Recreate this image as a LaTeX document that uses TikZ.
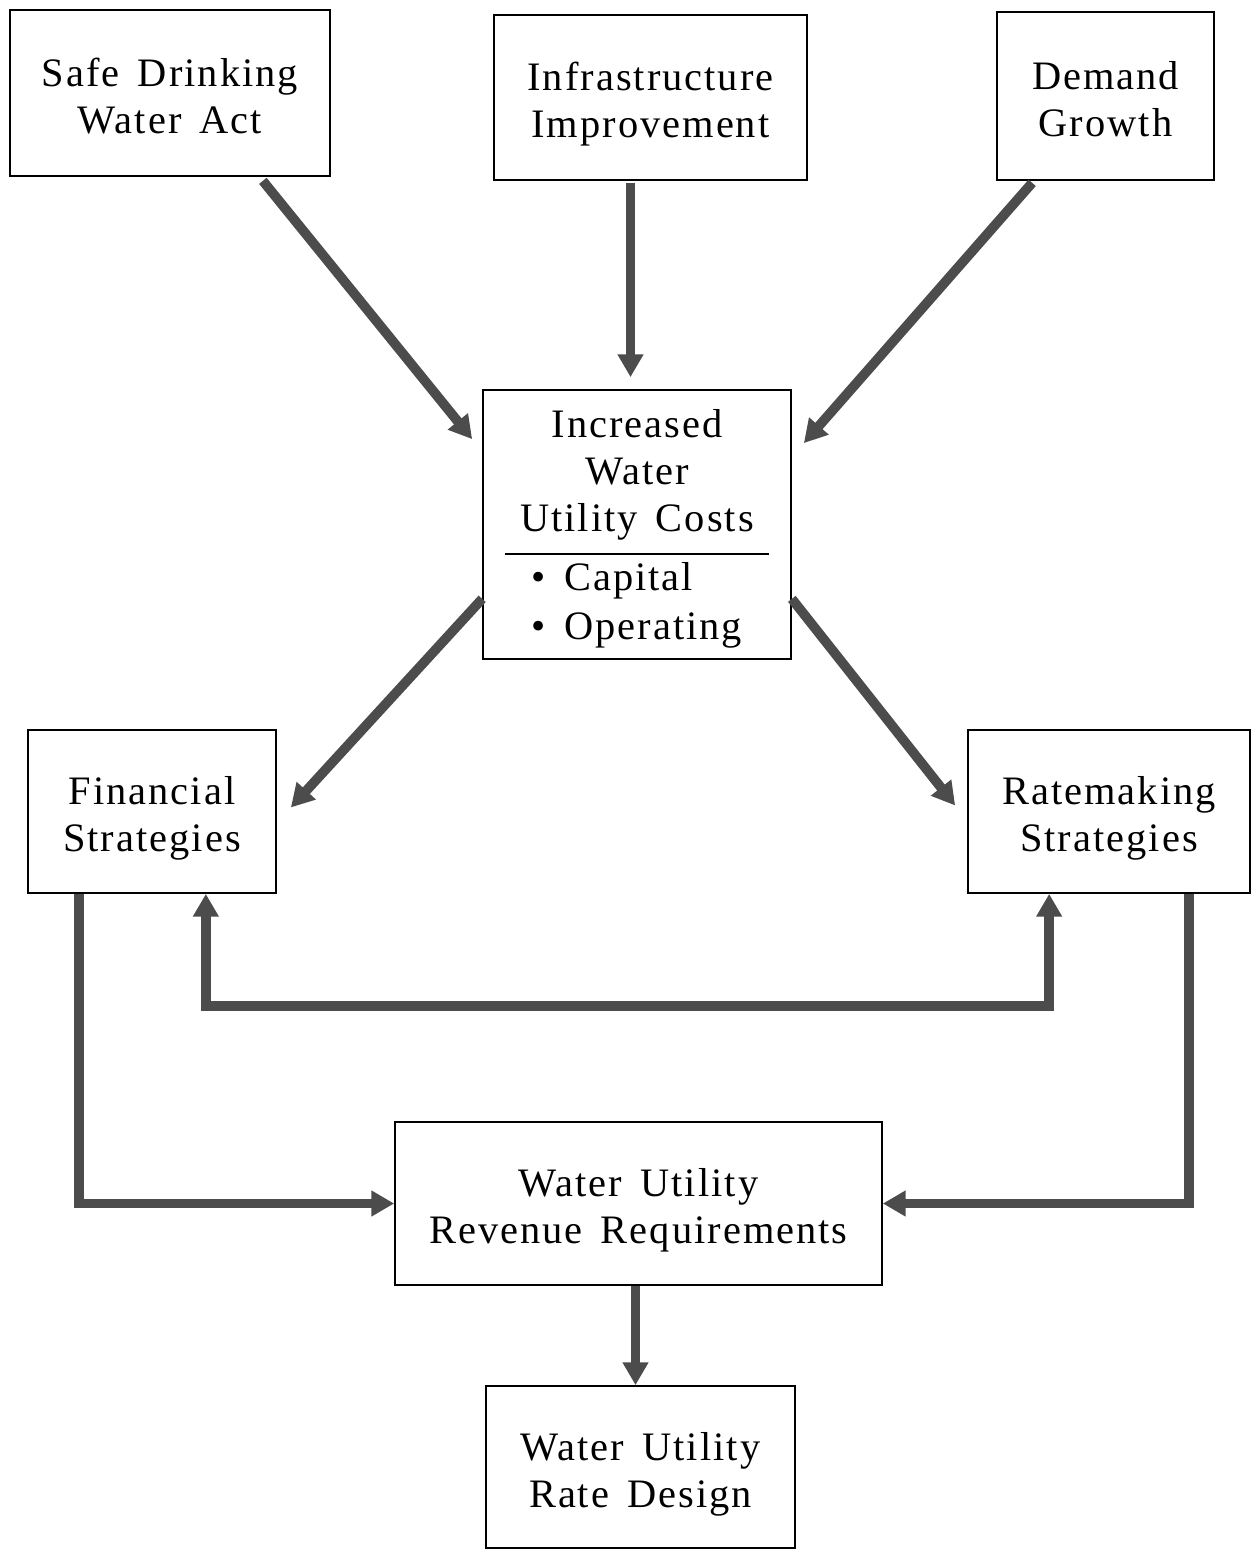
\documentclass[tikz,border=0pt]{standalone}
\usepackage{fontspec}
\setmainfont{Liberation Serif}[LetterSpace=5,WordSpace=1.5]
\usetikzlibrary{calc,arrows.meta}
\newcommand{\boxpad}{\rule{0pt}{27pt}}

\begin{document}
\begin{tikzpicture}[x=0.02cm,y=-0.02cm,
    box/.style={draw, line width=1pt, align=center, inner sep=0pt,
      font=\fontsize{23}{26.5}\selectfont},
    flow/.style={draw=black!70, line width=5.5pt,
      -{Triangle[width=14pt,length=13pt]}},
    flowboth/.style={flow, {Triangle[width=14pt,length=13pt]}-{Triangle[width=14pt,length=13pt]}}]
  \useasboundingbox (0,0) rectangle (1256,1550);

  % driving forces
  \node[box, minimum width=6.4cm, minimum height=3.32cm] (sdwa) at (170,93)
    {\boxpad Safe Drinking\\Water Act\strut};
  \node[box, minimum width=6.26cm, minimum height=3.3cm] (infra) at (650.5,97.5)
    {\boxpad Infrastructure\\Improvement\strut};
  \node[box, minimum width=4.34cm, minimum height=3.36cm] (demand) at (1105.5,96)
    {\boxpad Demand\\Growth\strut};

  % costs
  \node[box, minimum width=6.16cm, minimum height=5.38cm] (costs) at (637,524.5)
    {\rule{0pt}{24pt}Increased\\Water\\Utility Costs\\[-13pt]
     \rule{5.3cm}{0.8pt}\\[0.5pt]
     \begin{tabular}{@{}l@{}}\textbullet{} Capital\\[1.5pt]\textbullet{} Operating\end{tabular}};

  % strategies
  \node[box, minimum width=4.96cm, minimum height=3.26cm] (fin) at (152,811.5)
    {\boxpad Financial\\Strategies\strut};
  \node[box, minimum width=5.64cm, minimum height=3.26cm] (rate) at (1109,811.5)
    {\boxpad Ratemaking\\Strategies\strut};

  % results
  \node[box, minimum width=9.74cm, minimum height=3.26cm] (rev) at (638.5,1203.5)
    {\boxpad Water Utility\\Revenue Requirements\strut};
  \node[box, minimum width=6.18cm, minimum height=3.24cm] (design) at (640.5,1467)
    {\boxpad Water Utility\\Rate Design\strut};

  % arrows
  \draw[flow] ($(sdwa.south east)+(-68,4)$) -- ($(costs.north west)+(-10,50)$);
  \coordinate (infraout) at ($(infra.south)+(-20,2)$);
  \draw[flow] (infraout) -- ($(infraout |- costs.north)+(0,-12)$);
  \draw[flow] ($(demand.south west)+(36,2)$) -- ($(costs.north east)+(12,54)$);
  \draw[flow] ($(costs.south west)+(0,-61)$) -- ($(fin.east)+(14,-4)$);
  \draw[flow] ($(costs.south east)+(0,-61)$) -- ($(rate.west)+(-12,-6)$);
  \draw[flowboth] ($(fin.south east)+(-71,0)$) -- ++(0,112) -| ($(rate.south west)+(82,0)$);
  \draw[flow] ($(fin.south west)+(52,0)$) |- (rev.west);
  \draw[flow] ($(rate.south east)+(-62,0)$) |- (rev.east);
  \coordinate (revout) at ($(rev.south)+(-3,0)$);
  \draw[flow] (revout) -- (revout |- design.north);
\end{tikzpicture}
\end{document}
